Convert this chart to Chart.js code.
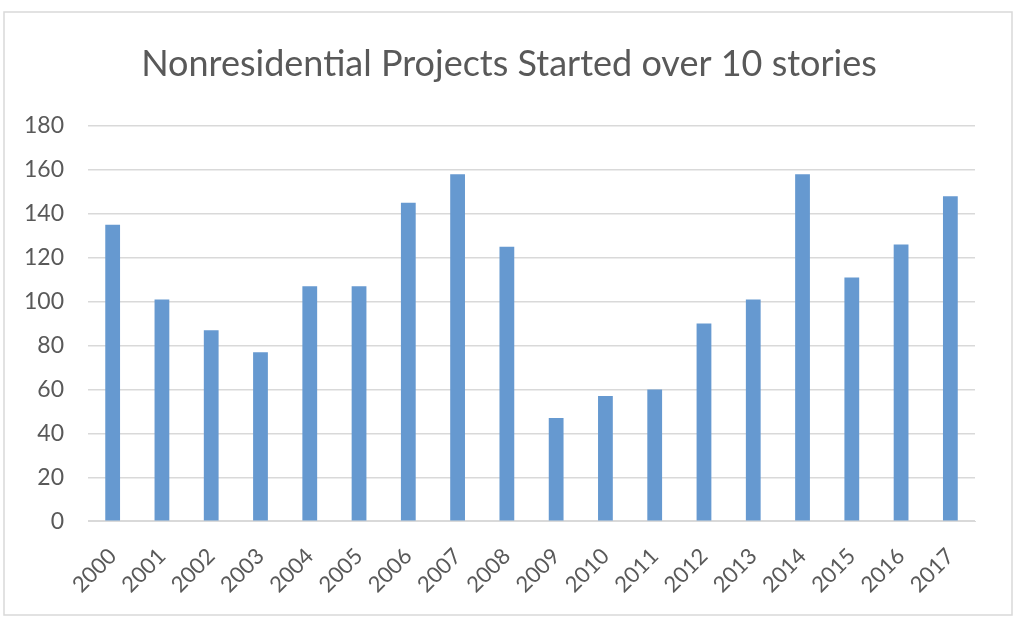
<!DOCTYPE html>
<html lang="en">
<head>
  <meta charset="UTF-8" />
  <title>Nonresidential Projects Started over 10 stories</title>
  <script src="https://cdn.jsdelivr.net/npm/chart.js"></script>
  <style>
    html, body { margin: 0; padding: 0; background: #fff; }
    #wrap { position: absolute; left: 0; top: 0; width: 1024px; height: 629px; }
  </style>
</head>
<body>
  <div id="wrap"><canvas id="chart"></canvas></div>

  <script>
    // dados
    const years = ['2000', '2001', '2002', '2003', '2004', '2005', '2006', '2007', '2008',
                   '2009', '2010', '2011', '2012', '2013', '2014', '2015', '2016', '2017'];
    const projects = [135, 101, 87, 77, 107, 107, 145, 158, 125, 47, 57, 60, 90, 101, 158, 111, 126, 148];
    const yMax = 180;
    const yStep = 20;
    const chartTitle = 'Nonresidential Projects Started over 10 stories';

    const textColor = '#595959';

    // moldura cinza + título centrado na moldura (não na área do gráfico)
    const frame = {
      id: 'frame',
      beforeDraw(chart) {
        const ctx = chart.ctx;
        ctx.save();
        ctx.fillStyle = '#fff';
        ctx.fillRect(0, 0, chart.width, chart.height);
        ctx.strokeStyle = '#d9d9d9';
        ctx.lineWidth = 1.5;
        ctx.strokeRect(4, 12, 1008, 603);
        ctx.fillStyle = textColor;
        ctx.font = '36px Lato';
        ctx.textAlign = 'center';
        ctx.textBaseline = 'middle';
        ctx.fillText(chartTitle, 509, 64);
        ctx.restore();
      }
    };

    new Chart(document.getElementById('chart'), {
      type: 'bar',
      data: {
        labels: years,
        datasets: [{
          label: 'Projects',
          data: projects,
          backgroundColor: '#6699d0',
          categoryPercentage: 1,
          barPercentage: 0.3
        }]
      },
      options: {
        responsive: true,
        maintainAspectRatio: false,
        animation: false,
        layout: { padding: { left: 0, right: 49, top: 126, bottom: 17 } },
        plugins: {
          legend: { display: false },
          tooltip: { enabled: false },
          title: { display: false }
        },
        scales: {
          x: {
            grid: { display: false },
            border: { color: '#d9d9d9' },
            ticks: {
              color: textColor,
              font: { family: 'Lato', size: 22 },
              minRotation: 45,
              maxRotation: 45,
              padding: 14
            }
          },
          y: {
            min: 0,
            max: yMax,
            border: { display: false },
            grid: { color: '#d9d9d9', lineWidth: 1.5, drawTicks: false },
            ticks: {
              stepSize: yStep,
              color: textColor,
              font: { family: 'Lato', size: 23 },
              padding: 24
            }
          }
        }
      },
      plugins: [frame]
    });
  </script>
</body>
</html>
